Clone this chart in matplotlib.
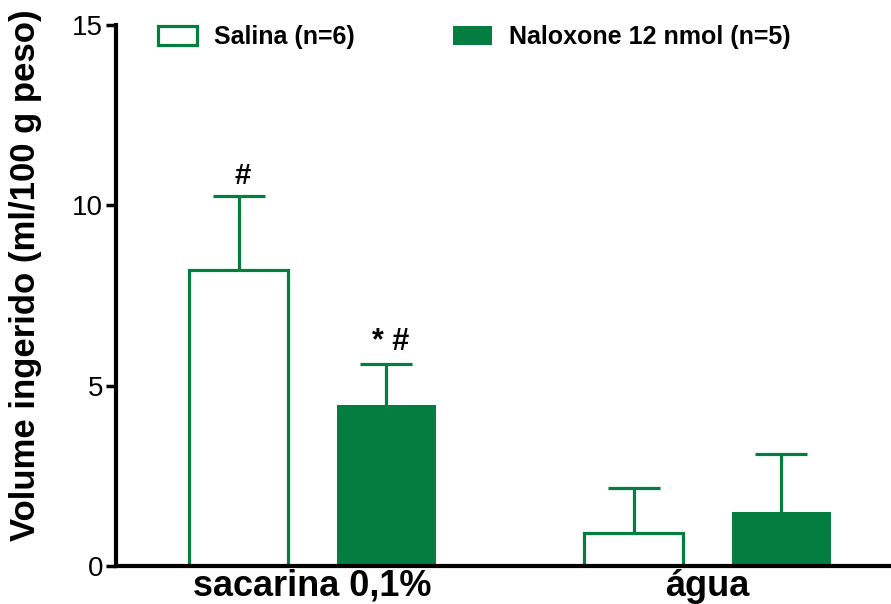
import numpy as np
import matplotlib
matplotlib.use('Agg')
import matplotlib.pyplot as plt

plt.rcParams['font.family'] = ['Liberation Sans', 'DejaVu Sans']

groups = ['sacarina 0,1%', 'água']
salina = [8.2, 0.9]
salina_err = [2.05, 1.25]
naloxone = [4.45, 1.5]
naloxone_err = [1.15, 1.6]
labels = ['Salina (n=6)', 'Naloxone 12 nmol (n=5)']
marks_salina = ['#', '']
marks_naloxone = ['* #', '']

green = '#037d40'

fig = plt.figure(figsize=(8.91, 6.04), dpi=100)
ax = fig.add_axes([0.130, 0.063, 0.870, 0.896])

x = np.arange(1, len(groups) + 1)
w = 0.251
off = 0.187

ax.bar(x - off, salina, w, color='white', edgecolor=green, linewidth=2.3,
       label=labels[0], zorder=2)
ax.bar(x + off, naloxone, w, color=green, edgecolor=green, linewidth=0,
       label=labels[1], zorder=2)
for xs, ys, es in [(x - off, salina, salina_err), (x + off, naloxone, naloxone_err)]:
    eb = ax.errorbar(xs, ys, yerr=[np.zeros(2), es], fmt='none',
                     ecolor=green, elinewidth=2.3, capsize=18.5, capthick=2.3, zorder=1)
    eb[1][0].set_visible(False)  # no lower caps

for i in range(len(groups)):
    if marks_salina[i]:
        ax.text(x[i] - off + 0.01, salina[i] + salina_err[i] + 0.18, marks_salina[i],
                ha='center', va='bottom', fontsize=21, fontweight='bold')
    if marks_naloxone[i]:
        ax.text(x[i] + off + 0.01, naloxone[i] + naloxone_err[i] + 0.18, marks_naloxone[i],
                ha='center', va='bottom', fontsize=22, fontweight='bold')

ax.set_xlim(0.5016, 2.4648)
ax.set_ylim(0, 15)
ax.set_yticks([0, 5, 10, 15])
ax.set_xticks(x)
ax.set_xticklabels(groups, fontsize=26, fontweight='bold')
ax.tick_params(axis='x', length=0, pad=2)
ax.tick_params(axis='y', length=7, width=2.5, labelsize=20, pad=2)
ax.set_ylabel('Volume ingerido (ml/100 g peso)', fontsize=25, fontweight='bold')
ax.yaxis.set_label_coords(-0.0955, 0.538)

for s in ['top', 'right']:
    ax.spines[s].set_visible(False)
for s in ['left', 'bottom']:
    ax.spines[s].set_linewidth(3)

ax.legend(ncol=2, frameon=False, loc='upper left', bbox_to_anchor=(0.026, 1.041),
          handlelength=1.56, handleheight=0.76, handletextpad=0.68,
          columnspacing=3.9, prop={'weight': 'bold', 'size': 18})

fig.savefig('out.png', dpi=100)
